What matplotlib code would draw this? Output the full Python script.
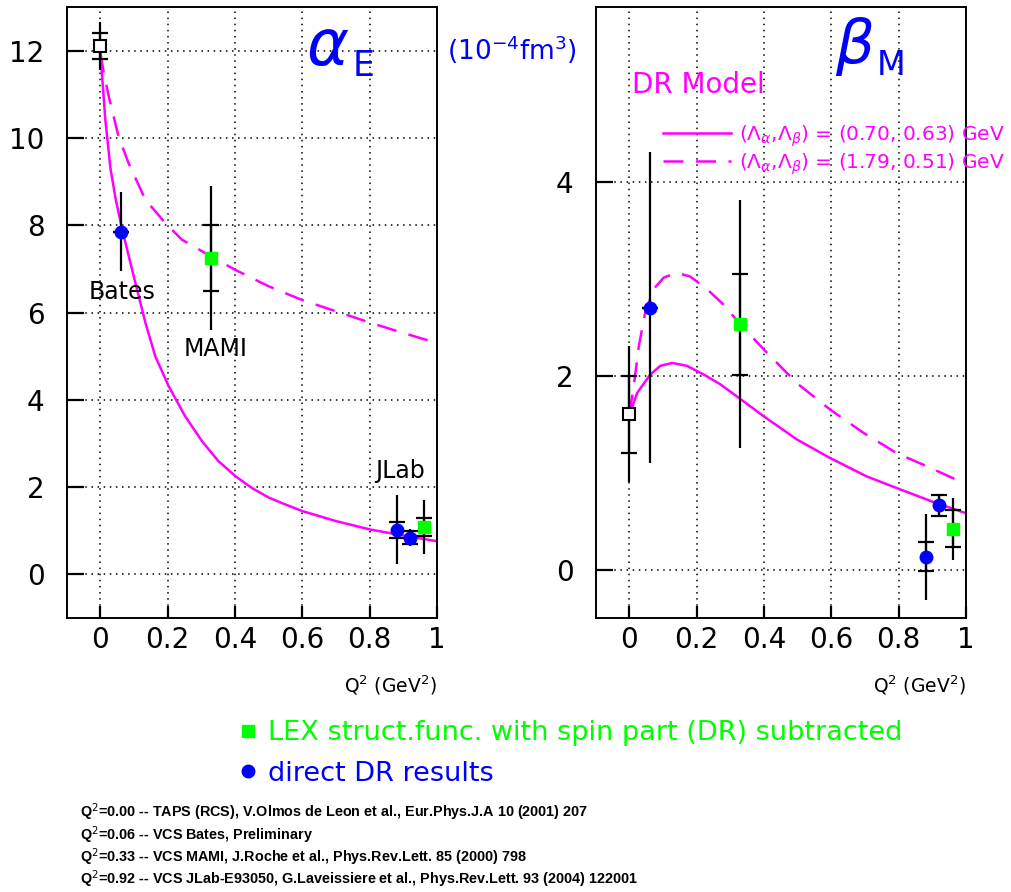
import numpy as np
import matplotlib
matplotlib.use('Agg')
import matplotlib.pyplot as plt

# ---- data ----
# DR model curves, alpha_E
q_a_solid = [0.0, 0.015, 0.03, 0.045, 0.064, 0.084, 0.104, 0.134, 0.163, 0.203,
             0.252, 0.302, 0.35, 0.401, 0.45, 0.5, 0.55, 0.6, 0.7, 0.8, 0.9, 1.0]
a_solid = [11.95, 10.4, 9.3, 8.62, 7.93, 7.3, 6.68, 5.76, 5.0, 4.31,
           3.62, 3.05, 2.6, 2.25, 1.98, 1.76, 1.6, 1.45, 1.22, 1.03, 0.89, 0.76]
q_a_dash = [0.0, 0.01, 0.025, 0.054, 0.084, 0.134, 0.193, 0.242, 0.33, 0.40,
            0.5, 0.598, 0.687, 0.8, 0.9, 1.0]
a_dash = [11.95, 11.5, 10.95, 10.03, 9.42, 8.58, 8.05, 7.67, 7.28, 6.98,
          6.6, 6.29, 6.06, 5.77, 5.53, 5.3]

# DR model curves, beta_M
q_b_solid = [0.0, 0.003, 0.023, 0.062, 0.092, 0.127, 0.171, 0.221, 0.27, 0.329,
             0.399, 0.498, 0.596, 0.705, 0.794, 0.9, 1.0]
b_solid = [1.6, 1.62, 1.82, 2.01, 2.10, 2.13, 2.10, 2.01, 1.91, 1.76,
           1.58, 1.34, 1.15, 0.96, 0.84, 0.70, 0.58]
q_b_dash = [0.0, 0.013, 0.028, 0.047, 0.072, 0.102, 0.141, 0.181, 0.231, 0.28,
            0.329, 0.399, 0.498, 0.596, 0.695, 0.794, 0.893, 1.0]
b_dash = [1.6, 1.89, 2.30, 2.65, 2.89, 3.01, 3.06, 3.02, 2.89, 2.73,
          2.53, 2.27, 1.92, 1.65, 1.41, 1.20, 1.05, 0.88]

# TAPS (RCS), open square
q_taps = [0.0]
a_taps, a_taps_stat, a_taps_tot = [12.1], [0.3], [0.55]
b_taps, b_taps_stat, b_taps_tot = [1.6], [0.4], [0.7]

# direct DR results (blue circles): Bates 0.06, JLab 0.88, JLab 0.92
q_dr = [0.06, 0.88, 0.92]
a_dr = [7.85, 1.02, 0.84]
a_dr_stat = [0.0, 0.18, 0.15]
a_dr_tot = [0.9, 0.79, 0.2]
b_dr = [2.7, 0.13, 0.66]
b_dr_stat = [0.0, 0.15, 0.11]
b_dr_tot = [1.6, 0.44, 0.12]

# LEX (green squares): MAMI 0.33, JLab 0.96
q_lex = [0.33, 0.96]
a_lex = [7.25, 1.08]
a_lex_stat = [0.75, 0.21]
a_lex_tot = [1.65, 0.62]
b_lex = [2.53, 0.42]
b_lex_stat = [0.52, 0.19]
b_lex_tot = [1.28, 0.32]

x_ticks = [0, 0.2, 0.4, 0.6, 0.8, 1.0]
x_ticklabels = ['0', '0.2', '0.4', '0.6', '0.8', '1']

refs = [
    r'Q$^2$=0.00 -- TAPS (RCS), V.Olmos de Leon et al., Eur.Phys.J.A 10 (2001) 207',
    r'Q$^2$=0.06 -- VCS Bates, Preliminary',
    r'Q$^2$=0.33 -- VCS MAMI, J.Roche et al., Phys.Rev.Lett. 85 (2000) 798',
    r'Q$^2$=0.92 -- VCS JLab-E93050, G.Laveissiere et al., Phys.Rev.Lett. 93 (2004) 122001',
]

MAG = '#ff00ff'
GREEN = '#00ff00'
BLUE = '#0000ff'

W, H = 1011, 892
fig = plt.figure(figsize=(W / 100, H / 100), dpi=100)


def fx(px):
    return px / W


def fy(py):
    return 1 - py / H


ax1 = fig.add_axes([fx(66.7), fy(618), (437 - 66.7) / W, 611 / H])
ax2 = fig.add_axes([fx(595.7), fy(618), (966 - 595.7) / W, 611 / H])


def draw_points(ax, x, y, stat, tot, **mk):
    ax.errorbar(x, y, yerr=tot, fmt='none', ecolor='black', elinewidth=1.6,
                capsize=0, zorder=3)
    ax.errorbar(x, y, yerr=stat, fmt='none', ecolor='black', elinewidth=1.6,
                capsize=5.5, capthick=1.6, zorder=3)
    return ax.plot(x, y, linestyle='none', zorder=4, **mk)[0]


def style_axes(ax, ylim, yticks):
    ax.set_xlim(-0.1, 1.0)
    ax.set_ylim(*ylim)
    ax.set_xticks(x_ticks)
    ax.set_xticklabels(x_ticklabels)
    ax.set_yticks(yticks)
    ax.tick_params(axis='both', direction='in', width=1.6, labelsize=20,
                   colors='black', top=False, right=False)
    ax.tick_params(axis='y', length=12, pad=16)
    ax.tick_params(axis='x', length=9, pad=6)
    ax.grid(True, color='black', linestyle=(0, (1, 3)), linewidth=1.1)
    for s in ax.spines.values():
        s.set_linewidth(1.4)
    ax.set_axisbelow(True)


# ---- alpha_E ----
ax1.plot(q_a_solid, a_solid, color=MAG, lw=1.8, zorder=2)
ax1.plot(q_a_dash, a_dash, color=MAG, lw=1.8, dashes=(8, 5), zorder=2)
draw_points(ax1, q_taps, a_taps, a_taps_stat, a_taps_tot,
            marker='s', ms=9, mfc='white', mec='black', mew=1.5)
draw_points(ax1, q_dr, a_dr, a_dr_stat, a_dr_tot,
            marker='o', ms=9, color=BLUE)
draw_points(ax1, q_lex, a_lex, a_lex_stat, a_lex_tot,
            marker='s', ms=8, color=GREEN)
style_axes(ax1, (-1, 13), [0, 2, 4, 6, 8, 10, 12])
ax1.text(0.064, 6.48, 'Bates', fontsize=17, ha='center', va='center')
ax1.text(0.341, 5.17, 'MAMI', fontsize=17, ha='center', va='center')
ax1.text(0.89, 2.36, 'JLab', fontsize=17, ha='center', va='center')

# ---- beta_M ----
l_solid, = ax2.plot(q_b_solid, b_solid, color=MAG, lw=1.8, zorder=2)
l_dash, = ax2.plot(q_b_dash, b_dash, color=MAG, lw=1.8, dashes=(8, 5), zorder=2)
draw_points(ax2, q_taps, b_taps, b_taps_stat, b_taps_tot,
            marker='s', ms=9, mfc='white', mec='black', mew=1.5)
h_dr = draw_points(ax2, q_dr, b_dr, b_dr_stat, b_dr_tot,
                   marker='o', ms=9, color=BLUE)
h_lex = draw_points(ax2, q_lex, b_lex, b_lex_stat, b_lex_tot,
                    marker='s', ms=8, color=GREEN)
style_axes(ax2, (-0.5, 5.8), [0, 2, 4])

leg = ax2.legend([l_solid, l_dash],
                 [r'($\Lambda_\alpha$,$\Lambda_\beta$) = (0.70, 0.63) GeV',
                  r'($\Lambda_\alpha$,$\Lambda_\beta$) = (1.79, 0.51) GeV'],
                 loc='upper left', bbox_to_anchor=(0.181, 0.81),
                 frameon=False, fontsize=14.5, labelcolor=MAG,
                 handlelength=3.4, handletextpad=0.4, labelspacing=0.12,
                 borderpad=0, borderaxespad=0)
leg.set_zorder(5)
fig.text(fx(632), fy(85), 'DR Model', color=MAG, fontsize=20, va='center', ha='left')

for ax in (ax1, ax2):
    ax.text(1.0, -0.11, r'Q$^2$ (GeV$^2$)', transform=ax.transAxes,
            ha='right', va='center', fontsize=13.5)

# titles
fig.text(fx(328), fy(47), r'$\alpha$', color=BLUE, fontsize=46, ha='center', va='center')
fig.text(fx(353), fy(76), 'E', color=BLUE, fontsize=25, ha='left', va='baseline')
fig.text(fx(855), fy(46), r'$\beta$', color=BLUE, fontsize=44, ha='center', va='center')
fig.text(fx(877), fy(75), 'M', color=BLUE, fontsize=24, ha='left', va='baseline')
fig.text(fx(512), fy(50), r'(10$^{-4}$fm$^3$)', color=BLUE, fontsize=19,
         ha='center', va='center')

# bottom legend
fig.legend([h_lex, h_dr],
           ['LEX struct.func. with spin part (DR) subtracted', 'direct DR results'],
           loc='upper left', bbox_to_anchor=(fx(240), fy(720)), frameon=False,
           fontsize=19.5, labelcolor=[GREEN, BLUE], handlelength=0.6,
           handletextpad=0.45, labelspacing=0.55, borderpad=0, borderaxespad=0)

ref_y = [812, 835, 857, 879]
for txt, yy in zip(refs, ref_y):
    fig.text(fx(80), fy(yy), txt, fontsize=10.4, ha='left', va='center',
             fontweight='bold', family=['Liberation Sans', 'DejaVu Sans'])

fig.savefig('out.png', dpi=100)
